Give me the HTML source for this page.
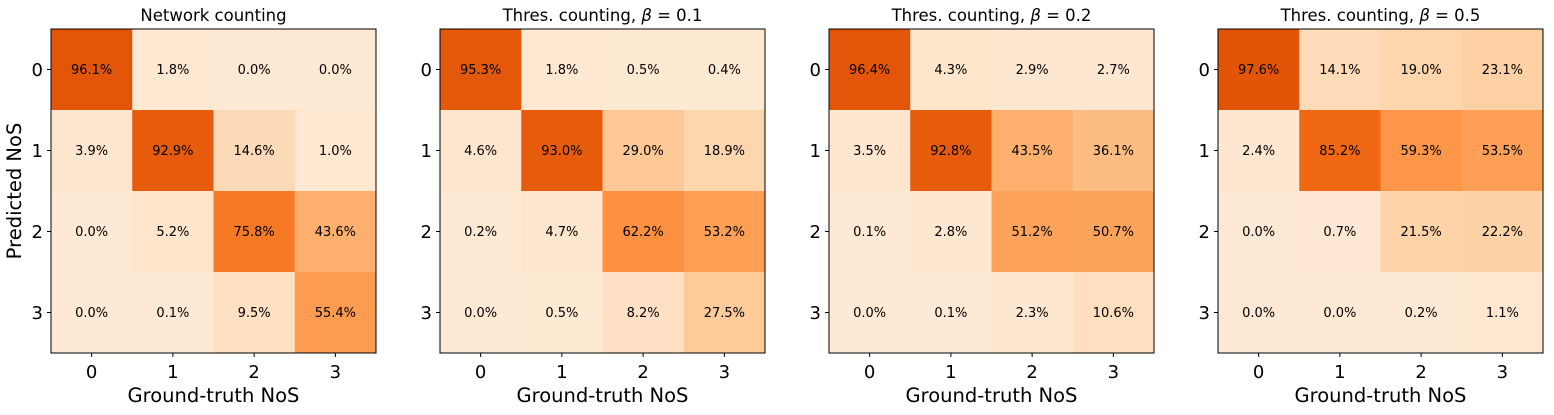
<!DOCTYPE html>
<html><head><meta charset="utf-8"><style>
body{margin:0;background:#fff}
svg text{font-family:"DejaVu Sans","Liberation Sans",sans-serif;fill:#000}
</style></head><body>
<svg id="chart" width="1554" height="410" xmlns="http://www.w3.org/2000/svg"></svg>
<script>
const titles = ["Network counting","Thres. counting, β = 0.1","Thres. counting, β = 0.2","Thres. counting, β = 0.5"];
const categories = ["0","1","2","3"];
const panel1 = [[96.1,1.8,0.0,0.0],[3.9,92.9,14.6,1.0],[0.0,5.2,75.8,43.6],[0.0,0.1,9.5,55.4]];
const panel2 = [[95.3,1.8,0.5,0.4],[4.6,93.0,29.0,18.9],[0.2,4.7,62.2,53.2],[0.0,0.5,8.2,27.5]];
const panel3 = [[96.4,4.3,2.9,2.7],[3.5,92.8,43.5,36.1],[0.1,2.8,51.2,50.7],[0.0,0.1,2.3,10.6]];
const panel4 = [[97.6,14.1,19.0,23.1],[2.4,85.2,59.3,53.5],[0.0,0.7,21.5,22.2],[0.0,0.0,0.2,1.1]];
const panels = [panel1,panel2,panel3,panel4];

const NS="http://www.w3.org/2000/svg";
const svg=document.getElementById('chart');
function mk(tag,attrs,parent){const e=document.createElementNS(NS,tag);for(const k in attrs)e.setAttribute(k,attrs[k]);(parent||svg).appendChild(e);return e;}
const stops=[[0,[255,245,235]],[0.125,[254,230,206]],[0.25,[253,208,162]],[0.375,[253,174,107]],[0.5,[253,141,60]],[0.625,[241,105,19]],[0.75,[217,72,1]],[0.875,[166,54,3]],[1,[127,39,4]]];
function oranges(t){for(let i=0;i<stops.length-1;i++){const a=stops[i],b=stops[i+1];if(t<=b[0]){const f=(t-a[0])/(b[0]-a[0]);return 'rgb('+a[1].map((c,j)=>Math.round(c+(b[1][j]-c)*f)).join(',')+')';}}return 'rgb(127,39,4)';}
function color(v){return oranges(0.1+0.62*v/100);}
const X0=[51,440,829,1218], Y0=29, W=325, H=324;
const cw=W/4, ch=H/4;
panels.forEach((data,p)=>{
  const g=mk('g',{});
  
  
  const xs=c=>X0[p]+c*cw, ys=r=>Y0+r*ch;
  data.forEach((row,r)=>row.forEach((v,c)=>{
    const rect=mk('rect',{x:xs(c),y:ys(r),width:cw+0.5,height:ch+0.5,fill:color(v)},g);
    
    
    const t=mk('text',{x:xs(c)+cw/2,y:ys(r)+ch/2+4.5,'text-anchor':'middle','font-size':'13'},g);
    
    
    t.textContent=v.toFixed(1)+'%';
  }));
  const fr=mk('rect',{x:X0[p],y:Y0,width:W,height:H,fill:'none',stroke:'#000','stroke-width':1},g);
  
  
  categories.forEach((lab,i)=>{
    const cx=xs(i)+cw/2, cy=ys(i)+ch/2;
    mk('line',{x1:cx,y1:Y0+H,x2:cx,y2:Y0+H+4,stroke:'#000'},g);
    mk('line',{x1:X0[p]-4,y1:cy,x2:X0[p],y2:cy,stroke:'#000'},g);
    const tx=mk('text',{x:cx,y:Y0+H+25,'text-anchor':'middle','font-size':'18'},g);
    
    
    tx.textContent=lab;
    const ty=mk('text',{x:X0[p]-8,y:cy+6.5,'text-anchor':'end','font-size':'18'},g);
    
    
    ty.textContent=lab;
  });
  const xl=mk('text',{x:X0[p]+W/2,y:402,'text-anchor':'middle','font-size':'19.5'},g);
  
  
  xl.textContent='Ground-truth NoS';
  const tt=mk('text',{x:X0[p]+W/2,y:21,'text-anchor':'middle','font-size':'16.5'},g);
  
  
  const parts=titles[p].split('β');
  if(parts.length>1){
    tt.appendChild(document.createTextNode(parts[0]));
    const s=mk('tspan',{'font-style':'italic'},tt);s.textContent='β';
    tt.appendChild(document.createTextNode(parts[1]));
  } else tt.textContent=titles[p];
});
const yl=mk('text',{x:0,y:0,'text-anchor':'middle','font-size':'19.5',transform:'translate(21,191) rotate(-90)'});


yl.textContent='Predicted NoS';
</script>
</body></html>
